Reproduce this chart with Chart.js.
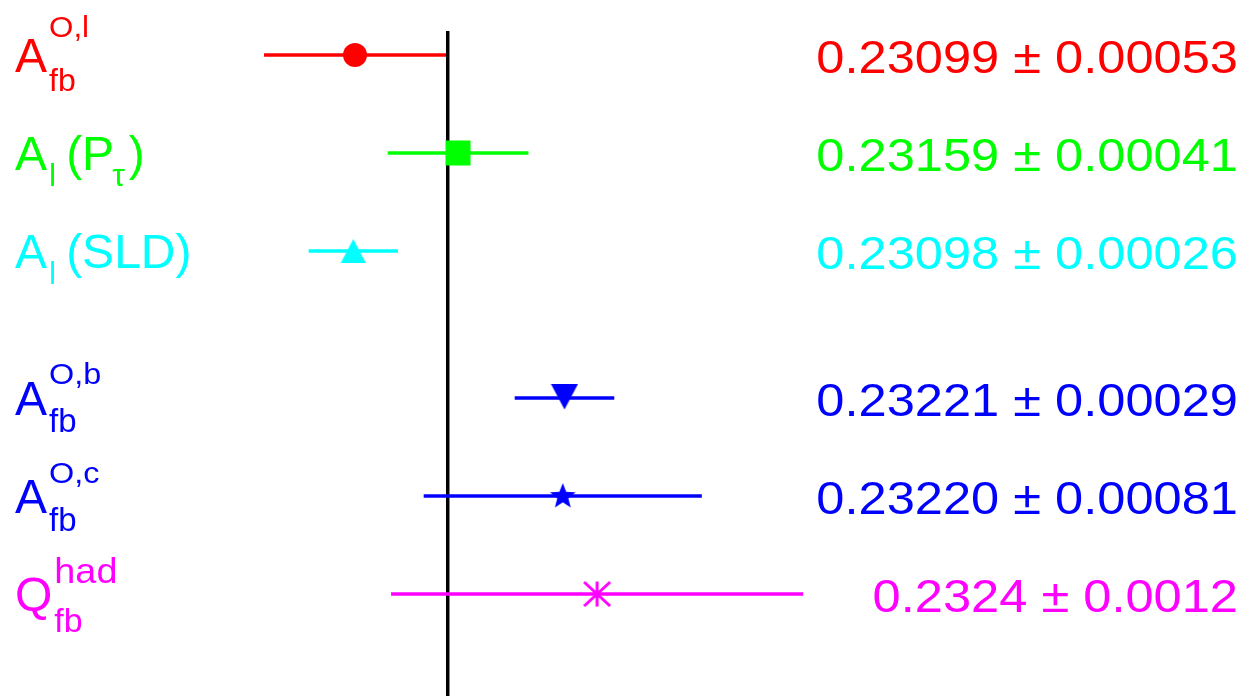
<!DOCTYPE html>
<html>
<head>
<meta charset="utf-8">
<script src="https://cdn.jsdelivr.net/npm/chart.js@4.4.1/dist/chart.umd.min.js"></script>
<style>
  html, body { margin: 0; padding: 0; background: #fff; overflow: hidden; }
  #wrap { width: 1247px; height: 696px; position: relative; }
</style>
</head>
<body>
<div id="wrap"><canvas id="chart"></canvas></div>
<script>
// measurements (sin^2 theta_eff) and their errors
const values  = [0.23099, 0.23159, 0.23098, 0.23221, 0.23220, 0.2324];
const errors  = [0.00053, 0.00041, 0.00026, 0.00029, 0.00081, 0.0012];
const valueLabels = ['0.23099', '0.23159', '0.23098', '0.23221', '0.23220', '0.2324'];
const errorLabels = ['0.00053', '0.00041', '0.00026', '0.00029', '0.00081', '0.0012'];
const rows    = [1, 2, 3, 4.5, 5.5, 6.5];   // row positions (gap after SLD)
const colors  = ['#ff0000', '#00ff00', '#00ffff', '#0000ff', '#0000ff', '#ff00ff'];
const average = 0.23153;

// label pieces: [text, kind, gap after sub, shift before sub]
const labelParts = [
    [['A', 'main'], ['fb', 'sub'], ['O,l', 'sup']],
    [['A', 'main'], ['l', 'sub', 10], ['(P', 'main'], ['\u03c4', 'sub', 4, -2], [')', 'main']],
    [['A', 'main'], ['l', 'sub', 10], ['(SLD)', 'main']],
    [['A', 'main'], ['fb', 'sub'], ['O,b', 'sup']],
    [['A', 'main'], ['fb', 'sub'], ['O,c', 'sup']],
    [['Q', 'main'], ['fb', 'sub'], ['had', 'sup']]
];
// per-row script sizes and offsets (the original mixes a few)
const subSize = [32, 32, 32, 33, 33, 34];
const supSize = [29, 29, 29, 30, 30, 35];
const subDy   = [36, 33, 33, 34, 35, 38];
const supDy   = [-18, -18, -18, -14, -13, -11];

const FONT = '"Liberation Sans", Arial, Helvetica, sans-serif';

// small canvases used as point styles
function makeMarker(w, h, color, draw) {
    const c = document.createElement('canvas');
    c.width = w; c.height = h;
    const g = c.getContext('2d');
    g.fillStyle = color;
    g.strokeStyle = color;
    draw(g, w, h);
    return c;
}

const triUp = makeMarker(26, 30, colors[2], (g) => {
    g.beginPath(); g.moveTo(13, 3); g.lineTo(25.5, 27); g.lineTo(0.5, 27); g.closePath(); g.fill();
});
const triDown = makeMarker(28, 30, colors[3], (g) => {
    g.beginPath(); g.moveTo(0.5, 1); g.lineTo(27.5, 1); g.lineTo(14, 26.5); g.closePath(); g.fill();
});
const star5 = makeMarker(30, 30, colors[4], (g) => {
    g.beginPath();
    for (let i = 0; i < 10; i++) {
        const r = i % 2 === 0 ? 13.5 : 5.8;
        const a = -Math.PI / 2 + i * Math.PI / 5;
        const px = 15 + r * Math.cos(a), py = 15.5 + r * Math.sin(a);
        i === 0 ? g.moveTo(px, py) : g.lineTo(px, py);
    }
    g.closePath(); g.fill();
});
const asterisk = makeMarker(30, 30, colors[5], (g) => {
    g.lineWidth = 3;
    g.beginPath();
    g.moveTo(15, 2.5); g.lineTo(15, 27.5);
    g.moveTo(2, 3); g.lineTo(28, 27);
    g.moveTo(28, 3); g.lineTo(2, 27);
    g.stroke();
});

const markerStyles = ['circle', 'rect', triUp, triDown, star5, asterisk];
const markerRadius = [12, 17.7, 12, 12, 12, 12];

function drawText(ctx, text, x, y, size, color, align, sx) {
    ctx.save();
    ctx.font = size + 'px ' + FONT;
    ctx.fillStyle = color;
    ctx.textBaseline = 'alphabetic';
    const w = ctx.measureText(text).width * sx;
    const left = align === 'right' ? x - w : x;
    ctx.translate(left, y);
    ctx.scale(sx, 1);
    ctx.fillText(text, 0, 0);
    ctx.restore();
    return w;
}

const textPlugin = {
    id: 'rowText',
    afterDraw(chart) {
        const ctx = chart.ctx;
        const yScale = chart.scales.y;
        rows.forEach((r, i) => {
            const py = yScale.getPixelForValue(r);
            const col = colors[i];
            // left label
            let x = 15, subX = null;
            labelParts[i].forEach(([t, kind, gap, shift]) => {
                if (kind === 'main') {
                    x += drawText(ctx, t, x, py + 17, 48, col, 'left', 1.0);
                    subX = null;
                } else if (kind === 'sub') {
                    subX = x + (shift !== undefined ? shift : 2);
                    const w = drawText(ctx, t, subX, py + subDy[i], subSize[i], col, 'left', 1.0);
                    x = subX + w + (gap !== undefined ? gap : 5);
                } else {
                    const sx = subX !== null ? subX : x + 2;
                    const w = drawText(ctx, t, sx, py + supDy[i], supSize[i], col, 'left', 1.08);
                    x = Math.max(x, sx + w);
                }
            });
            // right value
            const txt = valueLabels[i] + ' \u00b1 ' + errorLabels[i];
            drawText(ctx, txt, 1238, py + 18, 46, col, 'right', 1.1);
        });
    }
};

const datasets = [];
// markers first so they sit on top
values.forEach((v, i) => {
    datasets.push({
        data: [{ x: v, y: rows[i] }],
        pointStyle: markerStyles[i],
        pointRadius: markerRadius[i],
        backgroundColor: colors[i],
        borderColor: colors[i],
        borderWidth: 0,
        showLine: false
    });
});
// horizontal error bars
values.forEach((v, i) => {
    datasets.push({
        data: [{ x: v - errors[i], y: rows[i] }, { x: v + errors[i], y: rows[i] }],
        borderColor: colors[i],
        borderWidth: 3.5,
        pointRadius: 0,
        showLine: true
    });
});
// average line
datasets.push({
    data: [{ x: average, y: 0.755 }, { x: average, y: 7.6 }],
    borderColor: '#000000',
    borderWidth: 3.5,
    pointRadius: 0,
    showLine: true
});

new Chart(document.getElementById('chart'), {
    type: 'scatter',
    data: { datasets: datasets },
    options: {
        responsive: true,
        maintainAspectRatio: false,
        animation: false,
        layout: { padding: 0, autoPadding: false },
        plugins: { legend: { display: false }, tooltip: { enabled: false } },
        scales: {
            x: { type: 'linear', display: false, min: 0.2289224, max: 0.236185 },
            y: { type: 'linear', display: false, reverse: true, min: 0.4388, max: 7.5408 }
        }
    },
    plugins: [textPlugin]
});
</script>
</body>
</html>
